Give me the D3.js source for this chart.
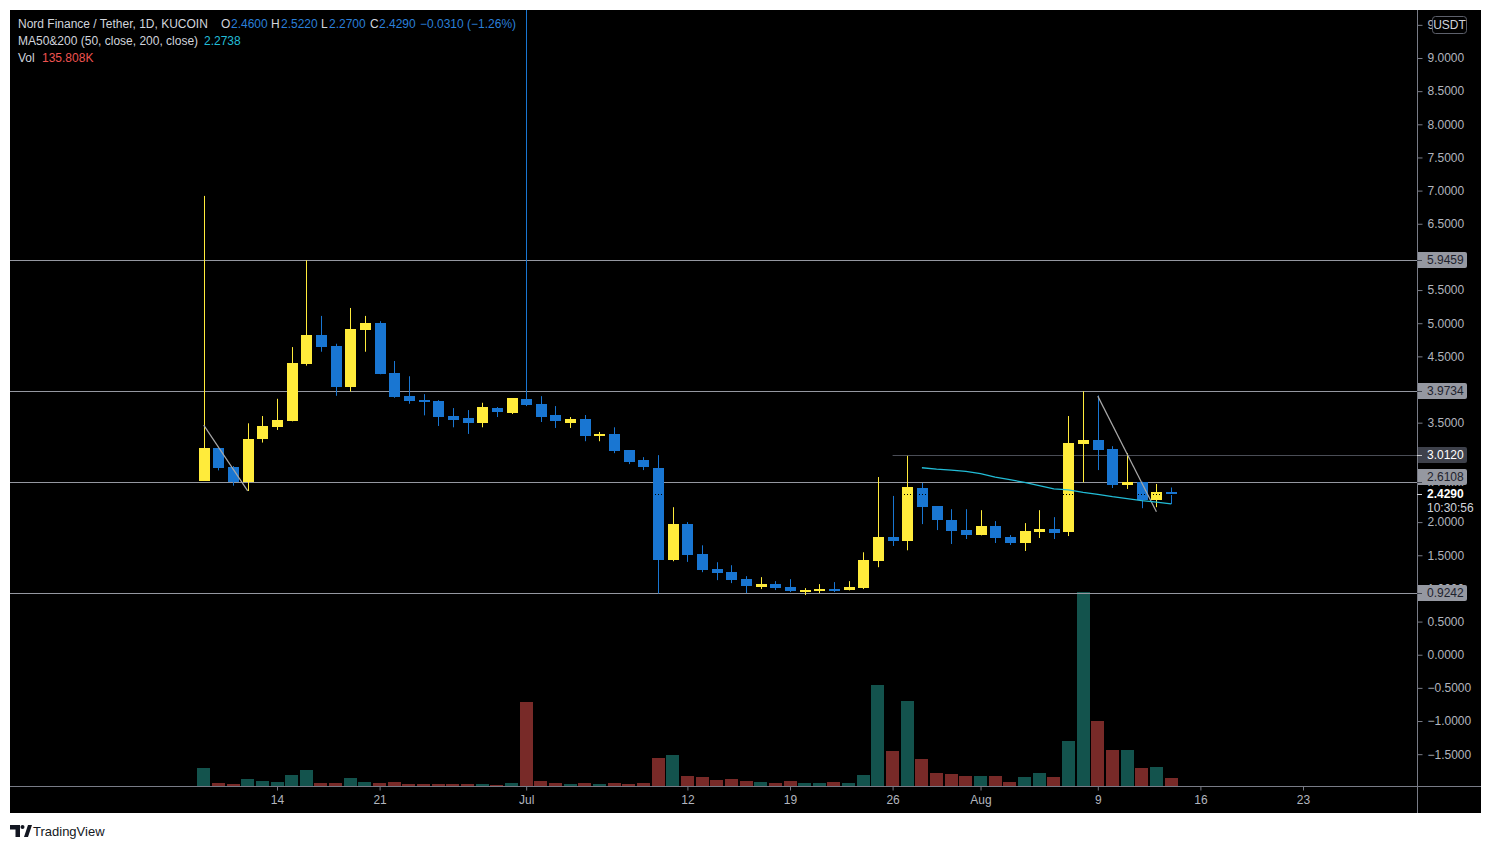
<!DOCTYPE html>
<html><head><meta charset="utf-8">
<script src="https://cdn.jsdelivr.net/npm/d3@7"></script>
<style>
body{margin:0;background:#ffffff;}
svg{display:block;}
text{font-family:"Liberation Sans",Arial,sans-serif;}
</style>
</head><body>
<svg id="chart" width="1491" height="849"></svg>
<script>
// ---------- DATA ----------
const firstDate = "2021-06-09";
const opens  = [2.62,3.12,2.83,2.61,3.26,3.43,3.53,4.39,4.82,4.655,4.04,4.90,5.00,4.25,3.90,3.84,3.82,3.60,3.57,3.50,3.72,3.65,
  3.85,3.78,3.615,3.49,3.555,3.30,3.33,3.085,2.935,2.815,1.425,1.97,1.515,1.29,1.245,1.14,1.02,1.065,1.02,0.96,0.96,0.99,0.975,1.005,1.41,1.775,1.715,
  2.51,2.24,2.03,1.88,1.805,1.94,1.775,1.685,1.85,1.895,1.85,3.175,3.235,3.10,2.56,2.605,2.335,2.46];
const highs  = [6.92,3.12,2.845,3.49,3.60,3.86,4.64,5.95,5.11,4.69,5.23,5.11,5.03,4.43,4.20,3.93,3.84,3.72,3.69,3.80,3.735,3.87,
  12.0,3.90,3.75,3.585,3.615,3.36,3.43,3.085,2.98,3.01,2.225,2.00,1.65,1.395,1.35,1.185,1.17,1.11,1.14,1.005,1.065,1.095,1.11,1.545,2.68,2.395,3.0,
  2.59,2.24,2.195,2.195,2.18,2.015,1.805,1.985,2.18,2.075,3.60,3.973,3.91,3.145,3.04,2.61,2.575,2.522];
const lows   = [2.62,2.78,2.55,2.47,3.20,3.39,3.52,4.36,4.57,3.905,3.97,4.57,4.23,3.875,3.785,3.61,3.45,3.43,3.33,3.43,3.585,3.63,
  3.75,3.51,3.42,3.42,3.22,3.22,3.04,2.875,2.785,0.924,1.41,1.40,1.245,1.125,1.08,0.93,0.99,0.975,0.945,0.90,0.93,0.945,0.97,0.99,1.32,1.64,1.575,
  1.97,1.88,1.67,1.745,1.80,1.685,1.655,1.565,1.76,1.745,1.79,2.60,2.785,2.515,2.50,2.21,2.225,2.27];
const closes = [3.12,2.82,2.61,3.26,3.45,3.54,4.40,4.82,4.645,4.04,4.91,5.00,4.24,3.89,3.83,3.83,3.59,3.545,3.50,3.735,3.665,3.87,
  3.76,3.585,3.525,3.555,3.30,3.33,3.07,2.905,2.83,1.425,1.97,1.50,1.275,1.23,1.125,1.035,1.065,1.005,0.96,0.975,0.99,0.975,1.02,1.425,1.775,1.715,2.53,
  2.225,2.03,1.865,1.805,1.94,1.76,1.685,1.865,1.895,1.835,3.19,3.235,3.085,2.56,2.605,2.335,2.455,2.429];
const volumes = [306,51,34,119,85,68,187,272,51,51,136,68,51,68,34,34,34,34,34,34,17,51,
  1428,85,51,34,51,34,51,34,51,476,527,170,153,102,119,85,68,51,85,51,51,68,51,187,1717,595,1445,
  459,221,204,170,170,170,68,153,221,153,765,3298,1105,612,612,306,323,135.808];
const maStartDate = "2021-07-28";
const maValues = [2.82,2.80,2.785,2.765,2.73,2.68,2.64,2.60,2.55,2.50,2.485,2.45,2.42,2.385,2.355,2.325,2.30,2.2738];
const levelLines = [5.9459, 3.9734, 2.6108, 0.9242];
const partialLevelValue = 3.0120;
const partialLevelStart = "2021-07-26";
const trendLineA = [["2021-06-09",3.464],["2021-06-12",2.47]];
const trendLineB = [["2021-08-09",3.90],["2021-08-13",2.156]];
const priceTicks = [-1.5,-1.0,-0.5,0.0,0.5,1.0,1.5,2.0,2.5,3.0,3.5,4.0,4.5,5.0,5.5,6.0,6.5,7.0,7.5,8.0,8.5,9.0,9.5];
const timeTickDates = ["2021-06-14","2021-06-21","2021-07-01","2021-07-12","2021-07-19","2021-07-26","2021-08-01","2021-08-09","2021-08-16","2021-08-23"];
const timeTickLabels = ["14","21","Jul","12","19","26","Aug","9","16","23"];
const lastTimeText = "10:30:56";

// ---------- SETUP ----------
const parse = d3.utcParse("%Y-%m-%d");
const DAY = 86400000;
const d0 = parse(firstDate);
const candles = opens.map((o,i)=>({date:new Date(d0.getTime()+i*DAY),o,h:highs[i],l:lows[i],c:closes[i],v:volumes[i]}));
const maStart = parse(maStartDate);
const maData = maValues.map((v,i)=>({date:new Date(maStart.getTime()+i*DAY),v}));

const L=10, R=1417, T=10, B=786, OUTR=1481, OUTB=813;
const x = d3.scaleUtc().domain([parse("2021-06-14"),parse("2021-08-23")]).range([277,1303]);
const y = d3.scaleLinear().domain([-1.98,9.724]).range([B,T]);
const yVol = d3.scaleLinear().domain([0,3298]).range([B,592]);

const UP="#ffeb3b", DOWN="#1976d2", VUP="#13534d", VDOWN="#782a28";
const svg = d3.select("#chart");

svg.append("rect").attr("x",L).attr("y",T).attr("width",OUTR-L).attr("height",OUTB-T).attr("fill","#000");
svg.append("defs").append("clipPath").attr("id","plot").append("rect")
  .attr("x",L).attr("y",T).attr("width",R-L).attr("height",B-T);
const plot = svg.append("g").attr("clip-path","url(#plot)");

// volume bars
const bw = 13;
plot.append("g").selectAll("rect").data(candles).join("rect")
  .attr("x",d=>Math.round(x(d.date)-bw/2)).attr("width",bw)
  .attr("y",d=>Math.round(yVol(d.v))).attr("height",d=>B-Math.round(yVol(d.v)))
  .attr("fill",d=>d.c>=d.o?VUP:VDOWN);

// level lines
plot.append("g").selectAll("line").data(levelLines).join("line")
  .attr("x1",L).attr("x2",R).attr("y1",d=>Math.round(y(d))+0.5).attr("y2",d=>Math.round(y(d))+0.5)
  .attr("stroke","#9598a1").attr("stroke-width",1);
plot.append("line").attr("x1",x(parse(partialLevelStart))).attr("x2",R)
  .attr("y1",Math.round(y(partialLevelValue))+0.5).attr("y2",Math.round(y(partialLevelValue))+0.5)
  .attr("stroke","#4a4d56").attr("stroke-width",1);

// candles
const cb = 11;
const cg = plot.append("g");
candles.forEach(d=>{
  const cx = Math.round(x(d.date))+0.5;
  const col = d.c>=d.o?UP:DOWN;
  cg.append("line").attr("x1",cx).attr("x2",cx).attr("y1",y(d.h)).attr("y2",y(d.l)).attr("stroke",col).attr("stroke-width",1);
  const top = Math.round(y(Math.max(d.o,d.c))), bot = Math.round(y(Math.min(d.o,d.c)));
  cg.append("rect").attr("x",cx-0.5-5).attr("width",cb).attr("y",top).attr("height",Math.max(2,bot-top)).attr("fill",col);
});

// current price dotted line
const lastClose = closes[closes.length-1];
plot.append("line").attr("x1",L).attr("x2",R)
  .attr("y1",Math.round(y(lastClose))+0.5).attr("y2",Math.round(y(lastClose))+0.5)
  .attr("stroke","#000").attr("stroke-width",1).attr("stroke-dasharray","1,2");

// trend lines
[trendLineA,trendLineB].forEach(tl=>{
  plot.append("line").attr("x1",x(parse(tl[0][0]))).attr("y1",y(tl[0][1]))
    .attr("x2",x(parse(tl[1][0]))).attr("y2",y(tl[1][1]))
    .attr("stroke","#a8a8a8").attr("stroke-width",1.2);
});

// MA line
plot.append("path").datum(maData)
  .attr("d",d3.line().x(d=>x(d.date)).y(d=>y(d.v)))
  .attr("fill","none").attr("stroke","#22bcd6").attr("stroke-width",1.3);

// axes frame lines
svg.append("line").attr("x1",L).attr("x2",OUTR).attr("y1",B+0.5).attr("y2",B+0.5).attr("stroke","#787b86");
svg.append("line").attr("x1",R+0.5).attr("x2",R+0.5).attr("y1",T).attr("y2",OUTB).attr("stroke","#787b86");

// price axis
const pa = svg.append("g").attr("transform",`translate(${R+0.5},0)`)
  .call(d3.axisRight(y).tickValues(priceTicks).tickFormat(d3.format(".4f")).tickSize(5).tickPadding(5));
pa.select(".domain").remove();
pa.selectAll("line").attr("stroke","#787b86");
pa.selectAll("text").attr("fill","#b2b5be").style("font-size","12px").style("font-family","'Liberation Sans',Arial,sans-serif");

// time axis
const ta = svg.append("g").attr("transform",`translate(0,${B+0.5})`)
  .call(d3.axisBottom(x).tickValues(timeTickDates.map(parse)).tickFormat((d,i)=>timeTickLabels[i]).tickSize(4).tickPadding(5));
ta.select(".domain").remove();
ta.selectAll("line").attr("stroke","#787b86");
ta.selectAll("text").attr("fill","#b2b5be").style("font-size","12px").style("font-family","'Liberation Sans',Arial,sans-serif");

// last price label (drawn before boxes so boxes stay on top)
const lastY = Math.round(y(lastClose));
svg.append("rect").attr("x",R+1).attr("y",lastY-8).attr("width",62).attr("height",30).attr("fill","#000");
svg.append("line").attr("x1",R).attr("x2",R+5).attr("y1",lastY+0.5).attr("y2",lastY+0.5).attr("stroke","#d1d4dc");
svg.append("text").attr("x",R+10).attr("y",lastY).attr("dy","0.35em").attr("fill","#ffffff")
  .style("font-size","12px").style("font-weight","600").text(d3.format(".4f")(lastClose));
svg.append("text").attr("x",R+10).attr("y",lastY+14).attr("dy","0.35em").attr("fill","#d1d4dc")
  .style("font-size","12px").text(lastTimeText);

// price label boxes
function labelBox(val, fill, textCol){
  const ly = Math.round(y(val));
  let cy = ly;
  if (Math.abs(ly - lastY) < 17) cy = lastY - 17;
  const g = svg.append("g");
  g.append("path").attr("d",`M${R+1},${cy-8} H${R+48} a2,2 0 0 1 2,2 V${cy+6} a2,2 0 0 1 -2,2 H${R+1} Z`).attr("fill",fill);
  g.append("line").attr("x1",R).attr("x2",R+5).attr("y1",ly+0.5).attr("y2",ly+0.5).attr("stroke",textCol).attr("opacity",0.7);
  g.append("text").attr("x",R+10).attr("y",cy).attr("dy","0.35em").attr("fill",textCol)
    .style("font-size","12px").text(d3.format(".4f")(val));
}
levelLines.forEach(v=>labelBox(v,"#9598a1","#1e222d"));
labelBox(partialLevelValue,"#3e414b","#ffffff");

// USDT box
svg.append("rect").attr("x",1432.5).attr("y",16.5).attr("width",34).attr("height",17).attr("rx",3)
  .attr("fill","#000").attr("stroke","#5d606b");
svg.append("text").attr("x",1449.5).attr("y",25).attr("dy","0.35em").attr("text-anchor","middle")
  .attr("fill","#d1d4dc").style("font-size","12px").text("USDT");

// legend
const last = candles[candles.length-1];
const f4 = d3.format(".4f");
const chg = last.c - last.o;
const leg = svg.append("g").style("font-size","12px");
function seg(xp, yp, txt, col){ leg.append("text").attr("x",xp).attr("y",yp).attr("dy","0.35em").attr("fill",col).text(txt); }
const LC="#d1d4dc", VB="#2a7fd8";
seg(18,24,"Nord Finance / Tether, 1D, KUCOIN",LC);
seg(221,24,"O",LC); seg(231,24,f4(last.o),VB);
seg(271,24,"H",LC); seg(281,24,f4(last.h),VB);
seg(321,24,"L",LC); seg(329,24,f4(last.l),VB);
seg(370,24,"C",LC); seg(379,24,f4(last.c),VB);
seg(420,24,`${d3.format(".4f")(chg)} (${d3.format(".2f")(chg/last.o*100)}%)`,VB);
seg(18,41,"MA50&200 (50, close, 200, close)",LC);
seg(204,41,f4(maValues[maValues.length-1]),"#22bcd6");
seg(18,58,"Vol",LC);
seg(42,58,d3.format(".3f")(last.v)+"K","#ef5350");

// TradingView logo
const logo = svg.append("g").attr("fill","#131722");
logo.append("path").attr("d","M10,825 H20 V837 H15.5 V829.5 H10 Z");
logo.append("circle").attr("cx",22.5).attr("cy",827).attr("r",2);
logo.append("path").attr("d","M24,837 L28,825 H32 L28,837 Z");
svg.append("text").attr("x",33).attr("y",831).attr("dy","0.35em").attr("fill","#131722")
  .style("font-size","13px").text("TradingView");
</script>
</body></html>
